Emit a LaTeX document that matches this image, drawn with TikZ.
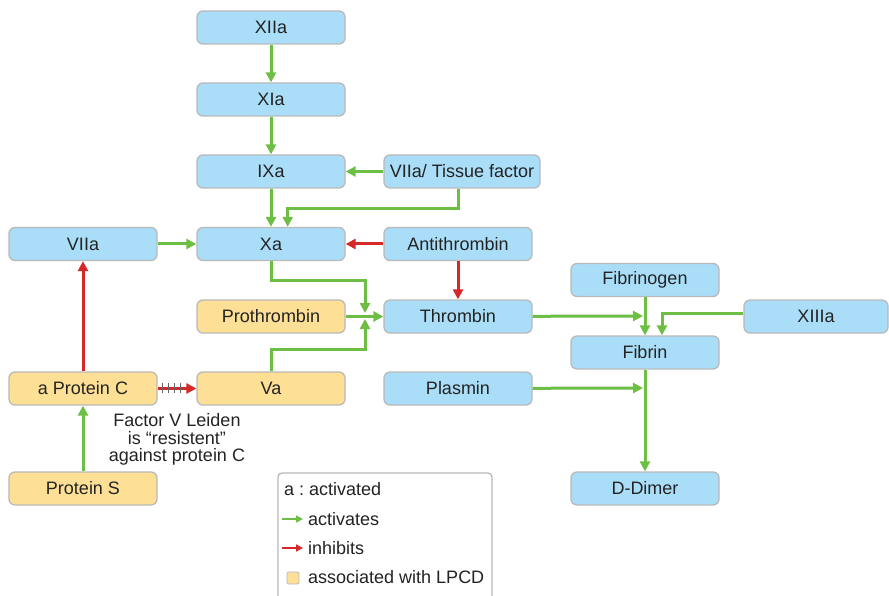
\documentclass[tikz,border=0pt]{standalone}
\usepackage{fontspec}
\setmainfont{Liberation Sans}
\usetikzlibrary{arrows.meta}
\definecolor{bfill}{RGB}{170,222,248}
\definecolor{yfill}{RGB}{253,224,150}
\definecolor{bgray}{RGB}{185,185,185}
\definecolor{gline}{RGB}{108,190,69}
\definecolor{rline}{RGB}{214,40,40}
\definecolor{txt}{RGB}{35,35,35}
\frenchspacing
\begin{document}
\begin{tikzpicture}[x=1pt,y=-1pt,
  box/.style={draw=bgray, line width=1.3pt, rounded corners=6pt, minimum width=148pt, minimum height=33pt, inner sep=0pt, font=\fontsize{18}{20}\selectfont, text=txt},
  bbox/.style={box, fill=bfill},
  ybox/.style={box, fill=yfill},
  act/.style={draw=gline, line width=3pt, -{Triangle[length=10pt,width=10pt]}},
  inh/.style={draw=rline, line width=3pt, -{Triangle[length=10pt,width=10pt]}},
  lbl/.style={font=\fontsize{18}{20}\selectfont, text=txt, inner sep=0pt}
]
\useasboundingbox (0,0) rectangle (889,596);
\clip (0,0) rectangle (889,596);

% nodes
\node[bbox] (xiia) at (271,27.5) {XIIa};
\node[bbox] (xia) at (271,99.5) {XIa};
\node[bbox] (ixa) at (271,171.5) {IXa};
\node[bbox, minimum width=156pt] (vtf) at (462,171.5) {VIIa/ Tissue factor};
\node[bbox] (xa) at (271,244) {Xa};
\node[bbox] (at) at (458,244) {Antithrombin};
\node[bbox] (vIIa) at (83,244) {VIIa};
\node[ybox] (pro) at (271,316.5) {Prothrombin};
\node[bbox] (thr) at (458,316.5) {Thrombin};
\node[ybox] (apc) at (83,388.5) {a Protein C};
\node[ybox] (va) at (271,388.5) {Va};
\node[bbox] (pla) at (458,388.5) {Plasmin};
\node[ybox] (ps) at (83,488.5) {Protein S};
\node[bbox] (fgen) at (645,280) {Fibrinogen};
\node[bbox] (fib) at (645,352.5) {Fibrin};
\node[bbox, minimum width=144pt] (xiiia) at (816,316.5) {XIIIa};
\node[bbox] (dd) at (645,488.5) {D-Dimer};

\node[lbl, align=center, font=\fontsize{18}{17.5}\selectfont] (fvl) at (177,439.5) {Factor V Leiden\\is “resistent”\\against protein C};

% coordinates
\coordinate (jtop) at (365,313);
\coordinate (jbot) at (365,319);
\coordinate (fa) at (643,316);
\coordinate (pa) at (643,388);

% connectors
\draw[act] (xiia) -- (xia);
\draw[act] (xia) -- (ixa);
\draw[act] (vtf) -- (ixa);
\draw[act] (ixa) -- (xa);
\draw[act] ([xshift=-4pt]vtf.south) -- ++(0,20) -| ([xshift=16.7pt]xa.north);
\draw[act] (vIIa) -- (xa);
\draw[inh] (at) -- (xa);
\draw[inh] (at) -- (thr);
\draw[act] (xa.south) -- ++(0,19) -| (jtop);
\draw[act] (pro) -- (thr);
\draw[act] (va.north) -- ++(0,-22) -| (jbot);
\draw[act] (thr) -- (fa);
\draw[act] (fgen) -- (fib);
\draw[act] ([yshift=3pt]xiiia.west) -| ([xshift=17pt]fib.north);
\draw[act] (pla) -- (pa);
\draw[act] (fib) -- (dd);
\draw[inh] (apc) -- (vIIa);
\draw[act] (ps) -- (apc);
\draw[inh] (apc) -- (va);
\foreach \tx in {162,168,174,180}
  \draw[draw=txt!70, line width=0.9pt] (\tx,383) -- (\tx,393);

% legend
\draw[draw=bgray, line width=1.3pt, fill=white, rounded corners=4pt] (278,473) rectangle (492,620);
\node[lbl, anchor=west] (la) at (284,489) {a : activated};
\coordinate (g1) at (282,519);
\coordinate (g2) at (303,519);
\draw[draw=gline, line width=1.5pt, -{Triangle[length=7pt,width=7pt]}] (g1) -- (g2);
\node[lbl, anchor=west] (lg) at (308,519) {activates};
\coordinate (r1) at (282,548);
\coordinate (r2) at (303,548);
\draw[draw=rline, line width=1.5pt, -{Triangle[length=7pt,width=7pt]}] (r1) -- (r2);
\node[lbl, anchor=west] (lr) at (308,548) {inhibits};
\node[draw=bgray, line width=0.8pt, fill=yfill, rounded corners=2pt, minimum size=12pt, inner sep=0pt] (ly) at (293,578) {};
\node[lbl, anchor=west] (lyt) at (308,577) {associated with LPCD};
\end{tikzpicture}
\end{document}
